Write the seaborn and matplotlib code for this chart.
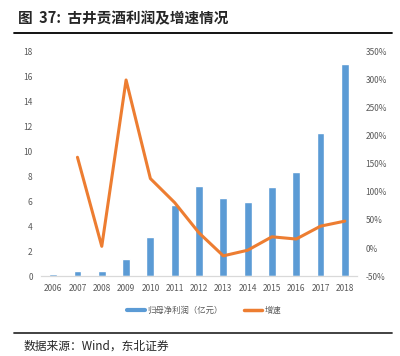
import matplotlib.pyplot as plt
import matplotlib.lines as mlines
import matplotlib.patches as mpatches
import matplotlib.ticker as mticker
import seaborn as sns
import pandas as pd
import numpy as np

years = ['2006', '2007', '2008', '2009', '2010', '2011', '2012',
         '2013', '2014', '2015', '2016', '2017', '2018']
profit = [0.15, 0.4, 0.38, 1.4, 3.15, 5.7, 7.26, 6.23, 5.97, 7.18, 8.33, 11.5, 17.0]
growth = [np.nan, 162, 3, 300, 124, 81, 27, -14, -4, 20, 16, 39, 48]

df = pd.DataFrame({'year': years, 'profit': profit, 'growth': growth})
df['pos'] = np.arange(len(df))

sns.set_style('white')
plt.rcParams['font.family'] = ['Noto Sans CJK SC', 'DejaVu Sans']

fig = plt.figure(figsize=(4, 3.56), dpi=100)
ax = fig.add_axes([0.1025, 0.2247, 0.79, 0.6293])

# bars on the left axis
sns.barplot(data=df, x='year', y='profit', color='#5B9BD5', saturation=1,
            width=0.32, ax=ax)
ax.set_ylim(0, 18)
ax.set_yticks(range(0, 19, 2))
ax.set_xlim(-0.5, 12.5)
ax.set_xlabel('')
ax.set_ylabel('')

# growth line on the right axis
ax2 = ax.twinx()
sns.lineplot(data=df, x='pos', y='growth', color='#ED7D31', linewidth=2.2, ax=ax2)
ax2.set_ylim(-50, 350)
ax2.set_yticks(range(-50, 351, 50))
ax2.yaxis.set_major_formatter(mticker.FuncFormatter(lambda v, p: f'{v:.0f}%'))
ax2.set_ylabel('')
ax2.set_xlim(-0.5, 12.5)

for a in (ax, ax2):
    for s in ['top', 'left', 'right']:
        a.spines[s].set_visible(False)
    a.spines['bottom'].set_color('#D9D9D9')
    a.tick_params(length=0, labelsize=6, colors='#595959', pad=6)

# legend
handles = [mlines.Line2D([], [], color='#5B9BD5', linewidth=3),
           mlines.Line2D([], [], color='#ED7D31', linewidth=2.5)]
fig.legend(handles, ['归母净利润（亿元）', '增速'], loc='center',
           bbox_to_anchor=(0.51, 0.128), ncol=2, frameon=False,
           fontsize=6, handlelength=2.2, handletextpad=0.3, columnspacing=2.5,
           labelcolor='#595959')

# title and source
fig.text(0.045, 0.948, '图  37:  古井贡酒利润及增速情况', fontsize=10.5,
         fontweight='bold', va='center', ha='left')
fig.add_artist(mlines.Line2D([0.035, 0.98], [0.907, 0.907], color='black', linewidth=1.3))
fig.add_artist(mlines.Line2D([0.035, 0.98], [0.065, 0.065], color='#333333', linewidth=1.3))
fig.text(0.06, 0.028, '数据来源：Wind，东北证券', fontsize=8.5, va='center', ha='left')

fig.savefig('out.png', dpi=100)
